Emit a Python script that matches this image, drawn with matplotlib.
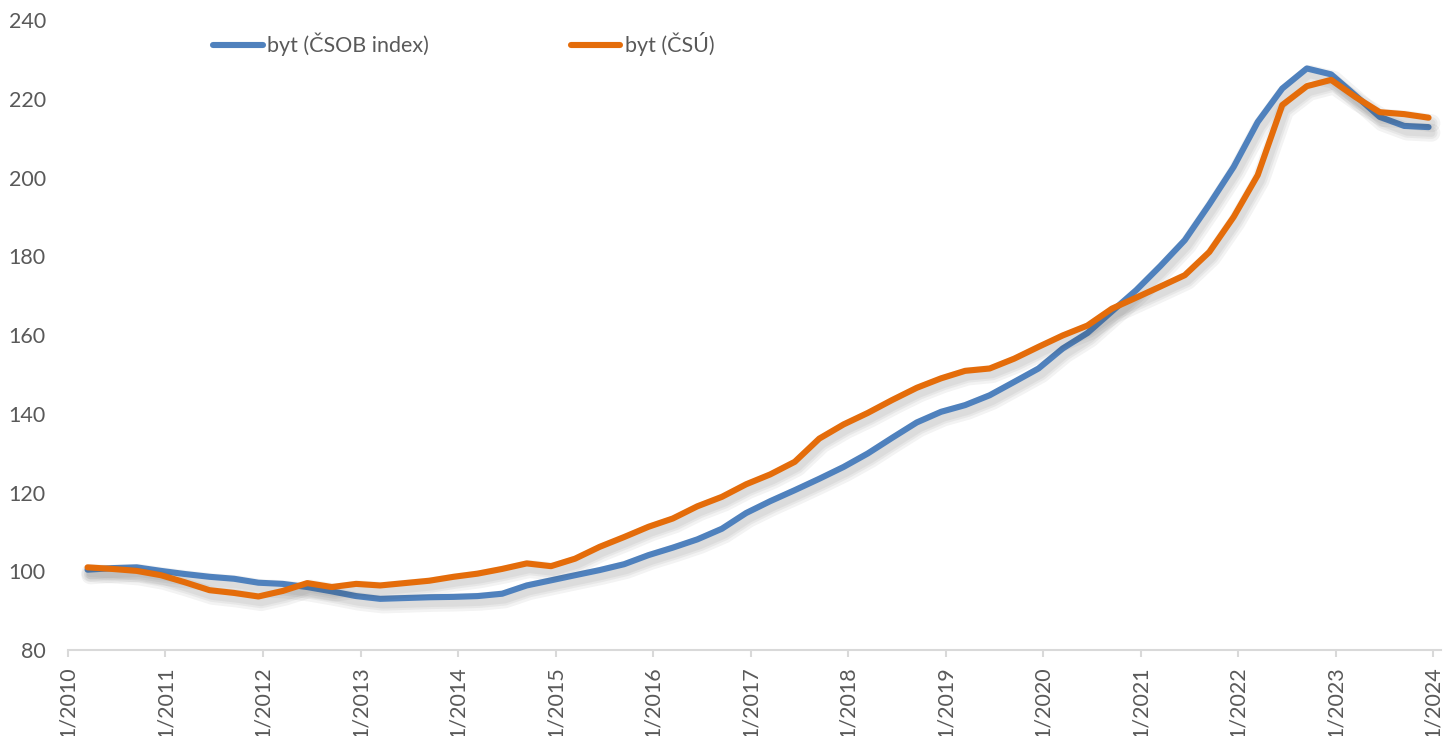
import matplotlib
matplotlib.use("Agg")
import matplotlib.pyplot as plt
import matplotlib.dates as mdates
import matplotlib.patheffects as pe
from matplotlib.lines import Line2D
import pandas as pd

# ctvrtletni data 2010Q1 - 2023Q4 (index, 2010 = 100)
obdobi = pd.date_range("2010-03-15", "2023-12-15", freq=pd.DateOffset(months=3))

csob_index = [100.4, 100.8, 101.0, 100.1, 99.3, 98.6, 98.1, 97.1,
              96.8, 96.0, 94.9, 93.7, 93.0, 93.2, 93.4, 93.5,
              93.7, 94.3, 96.4, 97.7, 99.0, 100.3, 101.8, 104.1,
              106.0, 108.1, 110.8, 114.8, 117.8, 120.6, 123.5, 126.5,
              129.9, 133.9, 137.8, 140.5, 142.2, 144.7, 148.1, 151.5,
              156.6, 160.5, 166.0, 171.4, 177.5, 184.1, 193.2, 202.7,
              214.1, 222.6, 227.7, 226.2, 220.9, 215.4, 213.1, 212.8]

csu_index = [101.0, 100.6, 100.1, 99.0, 97.2, 95.2, 94.5, 93.6,
             95.0, 97.0, 96.0, 96.8, 96.4, 97.0, 97.6, 98.6,
             99.4, 100.6, 102.0, 101.3, 103.2, 106.2, 108.7, 111.3,
             113.4, 116.5, 118.9, 122.1, 124.6, 127.8, 133.7, 137.3,
             140.2, 143.5, 146.6, 149.0, 150.9, 151.5, 154.0, 157.0,
             159.9, 162.4, 166.7, 169.5, 172.3, 175.2, 181.1, 190.0,
             200.6, 218.4, 223.2, 224.8, 220.5, 216.6, 216.1, 215.2]

nazvy = ["byt (ČSOB index)", "byt (ČSÚ)"]
barvy = ["#4F81BD", "#E46C0A"]

plt.rcParams['font.family'] = ['Lato', 'DejaVu Sans']

fig = plt.figure(figsize=(14.51, 7.36), dpi=100)
ax = fig.add_axes([0.0469, 0.1168, 0.9461, 0.856])

# mekky stin pod carami (posunuty dolu)
stin = [pe.SimpleLineShadow(offset=(2, -4), shadow_color='0.2', alpha=0.06, linewidth=w)
        for w in (13, 9, 6)] + [pe.Normal()]

for hodnoty, barva in zip([csob_index, csu_index], barvy):
    ax.plot(obdobi, hodnoty, color=barva, linewidth=4.4,
            solid_capstyle='round', solid_joinstyle='round', path_effects=stin)

ax.set_ylim(80, 240)
ax.set_yticks(range(80, 241, 20))
ax.set_xlim(pd.Timestamp("2010-01-01"), pd.Timestamp("2024-01-30"))
ax.xaxis.set_major_locator(mdates.YearLocator(1, month=1, day=1))
ax.xaxis.set_major_formatter(mdates.DateFormatter("1/%Y"))

for s in ['top', 'right', 'left']:
    ax.spines[s].set_visible(False)
ax.spines['bottom'].set_color('#D9D9D9')
ax.spines['bottom'].set_linewidth(1.5)

ax.tick_params(axis='y', length=0, pad=16, labelsize=15.5, labelcolor='#595959')
ax.tick_params(axis='x', length=5, width=1.5, color='#D9D9D9', pad=7,
               labelsize=15.5, labelcolor='#595959', labelrotation=90)
for lbl in ax.get_xticklabels():
    lbl.set_verticalalignment('top')

# legenda bez stinu
handles = [Line2D([], [], color=b, linewidth=4.4, solid_capstyle='round') for b in barvy]
fig.legend(handles, nazvy, loc='center left', bbox_to_anchor=(0.1335, 0.940), ncol=2,
           frameon=False, fontsize=15.5, labelcolor='#595959', handlelength=2.3,
           handletextpad=0.2, columnspacing=6.6)

fig.savefig("out.png", dpi=100)
